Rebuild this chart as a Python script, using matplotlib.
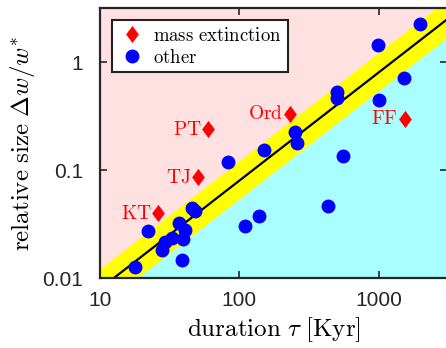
import numpy as np
import matplotlib
matplotlib.use("Agg")
import matplotlib.pyplot as plt
from matplotlib.path import Path
from matplotlib.ticker import FixedLocator, FixedFormatter, NullLocator

plt.rcParams['mathtext.fontset'] = 'cm'

# Mass extinction events
ext_names = ["KT", "TJ", "PT", "Ord", "FF"]
ext_tau = [26.2, 50.5, 60.1, 230, 1540]
ext_w = [0.040, 0.086, 0.238, 0.334, 0.30]

# Other events
oth_tau = [17.9, 22.2, 28.0, 29.4, 32.8, 37.2, 40.9, 39.7, 38.7, 45.7, 47.9,
           83.0, 110, 139, 150, 252, 261, 430, 501, 501, 551, 984, 1000, 1514, 1995]
oth_w = [0.0128, 0.0273, 0.0182, 0.0218, 0.0234, 0.0322, 0.0279, 0.0229, 0.0148,
         0.0443, 0.0422, 0.119, 0.0302, 0.0379, 0.155, 0.226, 0.179, 0.0463,
         0.528, 0.469, 0.135, 1.45, 0.443, 0.718, 2.26]

# Fit line w = c * tau, with band factor
fit_c = 8.0e-4
band_factor = 1.5

xlim = (10, 3100)
ylim = (0.01, 10 ** 0.5)

fig = plt.figure(figsize=(4.46, 3.48), dpi=100)
ax = fig.add_axes([100 / 446, (348 - 278.3) / 348, 347 / 446, (278.3 - 8) / 348])
ax.set_xscale('log')
ax.set_yscale('log')
ax.set_xlim(*xlim)
ax.set_ylim(*ylim)

pink = '#ffe1e1'
cyan = '#a9ffff'
ax.set_facecolor(pink)
xs = np.logspace(np.log10(xlim[0]) - 0.2, np.log10(xlim[1]) + 0.2, 200)
fit = fit_c * xs
ax.fill_between(xs, fit / band_factor, 1e-4, color=cyan, lw=0, zorder=0.5)
ax.fill_between(xs, fit / band_factor, fit * band_factor, color='#ffff00', lw=0, zorder=0.6)
ax.plot(xs, fit, color='black', lw=1.6, zorder=1)

diamond = Path([(0, 1), (0.74, 0), (0, -1), (-0.74, 0), (0, 1)],
               [Path.MOVETO, Path.LINETO, Path.LINETO, Path.LINETO, Path.CLOSEPOLY])

ax.plot(oth_tau, oth_w, 'o', color='#0000ff', ms=9, mec='#0000ff', ls='none',
        label=r'$\mathrm{other}$', zorder=3)
ax.plot(ext_tau, ext_w, marker=diamond, color='#ff0000', ms=11.5, mec='#ff0000', mew=0.5,
        ls='none', label=r'$\mathrm{mass\ extinction}$', zorder=3)

for name, t, w in zip(ext_names, ext_tau, ext_w):
    ax.annotate(r'$\mathrm{%s}$' % name, (t, w), xytext=(-5, 0), textcoords='offset points',
                ha='right', va='center', color='#ff0000', fontsize=14, zorder=4)

h, l = ax.get_legend_handles_labels()
leg = ax.legend(h[::-1], l[::-1], loc='upper left', fontsize=13.5, frameon=True,
                fancybox=False, framealpha=1, edgecolor='#222222',
                borderaxespad=0.65, handletextpad=0.4, labelspacing=0.15,
                borderpad=0.3, handlelength=1.5)
leg.get_frame().set_linewidth(1.5)

for s in ax.spines.values():
    s.set_color('#262626')
    s.set_linewidth(1.6)

ax.xaxis.set_major_locator(FixedLocator([10, 100, 1000]))
ax.xaxis.set_major_formatter(FixedFormatter(['10', '100', '1000']))
ax.yaxis.set_major_locator(FixedLocator([0.01, 0.1, 1]))
ax.yaxis.set_major_formatter(FixedFormatter(['0.01', '0.1', '1']))
ax.xaxis.set_minor_locator(NullLocator())
ax.yaxis.set_minor_locator(NullLocator())
ax.tick_params(which='both', direction='in', top=True, right=True, length=5,
               width=1.2, color='#262626', labelsize=15)
ax.tick_params(axis='x', pad=9)
ax.tick_params(axis='y', pad=12)
for lab in ax.get_xticklabels() + ax.get_yticklabels():
    lab.set_fontfamily('Liberation Sans')
    lab.set_color('#262626')

ax.set_xlabel(r'$\mathrm{duration}\ \tau\ [\mathrm{Kyr}]$', fontsize=18, labelpad=4)
ax.set_ylabel(r'$\mathrm{relative\ size}\ \Delta w/w^{*}$', fontsize=18, labelpad=4)

fig.savefig('out.png', dpi=100)
